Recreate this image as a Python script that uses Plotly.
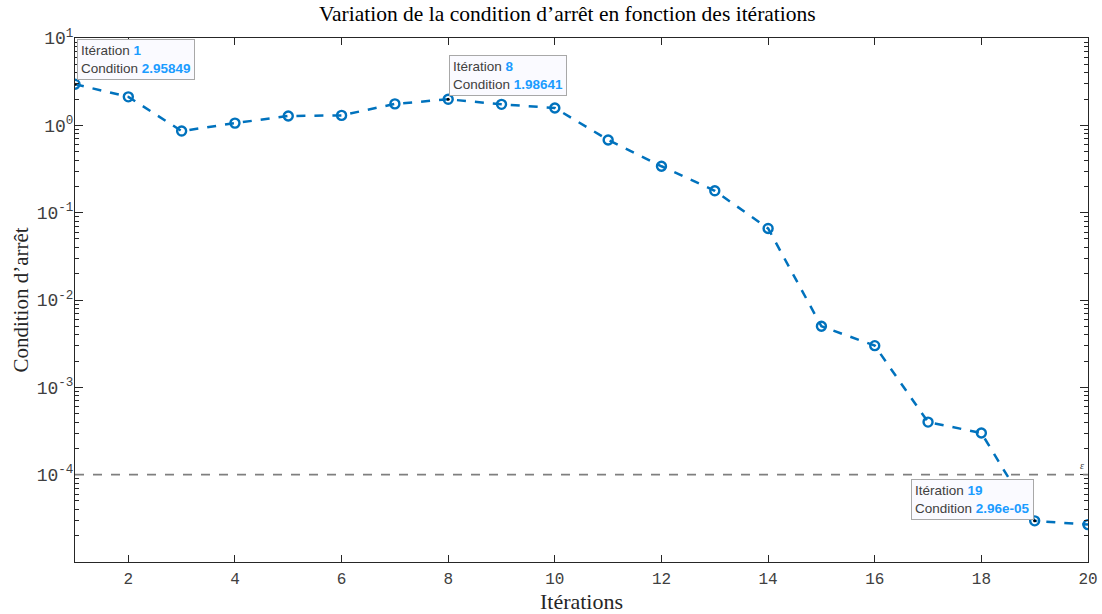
import math
import plotly.graph_objects as go

iterations = list(range(1, 21))
condition = [2.95849, 2.12, 0.86, 1.06, 1.28, 1.30, 1.76, 1.98641, 1.74, 1.58,
             0.68, 0.34, 0.178, 0.066, 0.0050, 0.0030, 0.00040, 0.00030, 2.96e-05, 2.68e-05]
epsilon = 1e-4
tip_points = [1, 8, 19]
tip_labels = ["2.95849", "1.98641", "2.96e-05"]
y_tick_exps = [-4, -3, -2, -1, 0, 1]
x_ticks = [2, 4, 6, 8, 10, 12, 14, 16, 18, 20]

blue = "#0072BD"
serif = "Liberation Serif, DejaVu Serif, serif"
mono = "Liberation Mono, DejaVu Sans Mono, monospace"
sans = "Liberation Sans, Arial, sans-serif"

fig = go.Figure()
fig.add_trace(go.Scatter(
    x=iterations, y=condition, mode="lines+markers",
    line=dict(color=blue, width=2.5, dash="dash"),
    marker=dict(symbol="circle-open", size=9, color=blue, line=dict(width=2.4, color=blue)),
    showlegend=False, hoverinfo="skip"))

fig.add_trace(go.Scatter(
    x=tip_points, y=[condition[i - 1] for i in tip_points], mode="markers",
    marker=dict(size=3, color="black"), showlegend=False, hoverinfo="skip"))

fig.add_shape(type="line", xref="paper", x0=0, x1=1, yref="y", y0=epsilon, y1=epsilon,
              line=dict(color="#7f7f7f", width=1.6, dash="dash"))
fig.add_annotation(xref="paper", x=0.994, yref="y", y=math.log10(epsilon), text="<i>ε</i>",
                   showarrow=False, xanchor="center", yanchor="bottom", yshift=2,
                   font=dict(family=serif, size=10, color="#404040"))

anchors = {1: ("left", "bottom", 2, 4), 8: ("left", "bottom", 1, 3), 19: ("right", "bottom", -1, 1)}
for p, lab in zip(tip_points, tip_labels):
    xa, ya, xs, ys = anchors[p]
    fig.add_annotation(
        x=p, y=math.log10(condition[p - 1]), xref="x", yref="y",
        text=f"Itération <b><span style='color:#1a9cff'>{p}</span></b><br>Condition <b><span style='color:#1a9cff'>{lab}</span></b>",
        showarrow=False, xanchor=xa, yanchor=ya, align="left",
        xshift=xs, yshift=ys,
        bgcolor="#fafaff", bordercolor="#a8a8a8", borderwidth=1, borderpad=3,
        font=dict(family=sans, size=13.5, color="#404040"))

minor_vals = [k * 10 ** e for e in range(-5, 1) for k in range(2, 10)]

fig.update_layout(
    width=1102, height=614,
    margin=dict(l=75, r=14, t=38, b=52),
    paper_bgcolor="white", plot_bgcolor="white",
    title=dict(text="Variation de la condition d’arrêt en fonction des itérations",
               x=0.486, xref="paper", xanchor="center", y=0.99, yanchor="top",
               font=dict(family=serif, size=21.5, color="black")),
    xaxis=dict(range=[1, 20], tickvals=x_ticks, ticks="inside", ticklen=7, tickcolor="#262626",
               showline=True, linecolor="#262626", linewidth=1, mirror="ticks", showgrid=False,
               zeroline=False, automargin=False, ticklabelstandoff=2,
               tickfont=dict(family=mono, size=16, color="#404040"),
               title=dict(text="Itérations", font=dict(family=serif, size=22, color="#262626"), standoff=0)),
    yaxis=dict(type="log", range=[-5, 1], tickvals=[10 ** e for e in y_tick_exps],
               ticktext=[f"10<sup>{e}</sup>" for e in y_tick_exps],
               ticks="inside", ticklen=8, tickcolor="#262626",
               minor=dict(tickvals=minor_vals, ticks="inside", ticklen=4, tickcolor="#262626"),
               showline=True, linecolor="#262626", linewidth=1, mirror="ticks", showgrid=False,
               zeroline=False, automargin=False, ticklabelstandoff=-3,
               tickfont=dict(family=mono, size=18, color="#404040"),
               title=dict(text="Condition d’arrêt", font=dict(family=serif, size=21, color="#262626"), standoff=2)),
)

fig.write_html("out.html", config={"displayModeBar": False},
               post_script="document.body.style.margin='0';document.body.style.overflow='hidden';")
